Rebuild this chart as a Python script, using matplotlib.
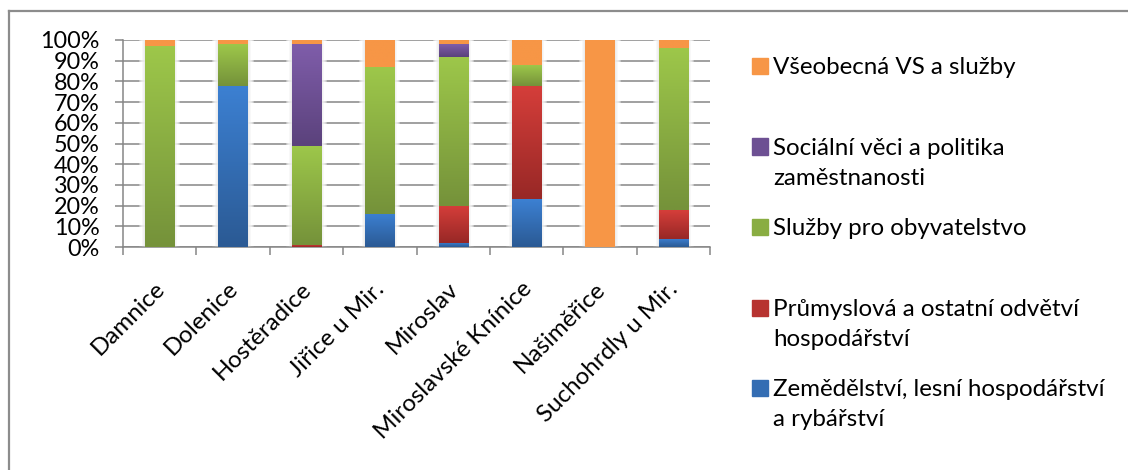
import numpy as np
import matplotlib.pyplot as plt
from matplotlib.colors import LinearSegmentedColormap, to_rgb
from matplotlib.lines import Line2D
from matplotlib.patches import Rectangle

plt.rcParams['font.family'] = ['Lato', 'DejaVu Sans']

obce = ["Damnice", "Dolenice", "Hostěradice", "Jiřice u Mir.", "Miroslav",
        "Miroslavské Knínice", "Našiměřice", "Suchohrdly u Mir."]

# podíly výdajů podle odvětví (v %), zdola nahoru
zemedelstvi = [0, 78, 0, 16, 2, 23, 0, 4]
prumysl = [0, 0, 1, 0, 18, 55, 0, 14]
sluzby_obyv = [97, 20, 48, 71, 72, 10, 0, 78]
socialni = [0, 0, 49, 0, 6, 0, 0, 0]
vseobecna = [3, 2, 2, 13, 2, 12, 100, 4]

nazvy = ["Zemědělství, lesní hospodářství\na rybářství",
         "Průmyslová a ostatní odvětví\nhospodářství",
         "Služby pro obyvatelstvo",
         "Sociální věci a politika\nzaměstnanosti",
         "Všeobecná VS a služby"]

# (světlá horní, tmavá dolní) barva přechodu
barvy = [("#3C80D2", "#2B5A94"),
         ("#D53E3A", "#982826"),
         ("#9DC74A", "#75923A"),
         ("#7F5DAA", "#5B427C"),
         ("#F79646", "#F79646")]

W, H = 1128, 470
fig = plt.figure(figsize=(W / 100, H / 100), dpi=100)
ax = fig.add_axes([123 / W, 1 - 247 / H, (710 - 123) / W, (247 - 40) / H])

serie = np.array([zemedelstvi, prumysl, sluzby_obyv, socialni, vseobecna], dtype=float)
pct = serie / serie.sum(axis=0) * 100
x = np.arange(len(obce))
sirka = 0.4
px = 1 / 73.4  # jedna obrazovková tečka v jednotkách kategorie

# měkký stín kolem sloupců
for j in range(6, 0, -1):
    ax.bar(x, 100, width=sirka + 2 * j * px, color="white", alpha=0.35, zorder=2.5)
for j in range(3, 0, -1):
    ax.bar(x, 100, width=sirka + 2 * j * px, color="#c8c8c8", alpha=0.12, zorder=2.6)

spodek = np.zeros(len(obce))
for hodnoty, (svetla, tmava) in zip(pct, barvy):
    sloupce = ax.bar(x, hodnoty, width=sirka, bottom=spodek, color=svetla, zorder=3)
    cmap = LinearSegmentedColormap.from_list("g", [tmava, svetla])
    for p in sloupce:
        if p.get_height() <= 0:
            p.set_visible(False)
            continue
        x0, y0 = p.get_x(), p.get_y()
        ax.imshow(np.linspace(0, 1, 64).reshape(-1, 1), cmap=cmap, origin="lower",
                  extent=[x0, x0 + p.get_width(), y0, y0 + p.get_height()],
                  aspect="auto", zorder=3, interpolation="bilinear")
        p.set_visible(False)
    spodek += hodnoty

ax.set_xlim(-0.5, len(obce) - 0.5)
ax.set_ylim(0, 100)
ax.set_yticks(np.arange(0, 101, 10))
ax.set_yticklabels([f"{v}%" for v in range(0, 101, 10)], fontsize=16.8)
ax.yaxis.grid(True, color="#868686", linewidth=1.1, zorder=1)
ax.set_axisbelow(True)

ax.set_xticks(x)
ax.set_xticklabels([])
ax.set_xticks(np.arange(-0.5, len(obce)), minor=True)
ax.tick_params(axis="x", which="major", length=0)
ax.tick_params(axis="x", which="minor", length=6, width=1.1, color="#868686", direction="out")
ax.tick_params(axis="y", length=6, width=1.1, color="#868686", direction="out", pad=11)

for s in ["top", "right"]:
    ax.spines[s].set_visible(False)
for s in ["left", "bottom"]:
    ax.spines[s].set_color("#868686")
    ax.spines[s].set_linewidth(1.1)

for xi, nazev in zip(x, obce):
    ax.text(xi - 0.08, -15, nazev, rotation=45, rotation_mode="anchor",
            ha="right", va="top", fontsize=17.4, transform=ax.transData)

# legenda
for i, (nazev, (svetla, tmava)) in enumerate(zip(nazvy[::-1], barvy[::-1])):
    yc = 66 + i * 80.5
    stred = tuple((np.array(to_rgb(svetla)) + np.array(to_rgb(tmava))) / 2)
    fig.patches.append(Rectangle((752 / W, 1 - (yc + 8) / H), 16 / W, 16 / H,
                                 color=stred, transform=fig.transFigure, figure=fig))
    fig.text(773 / W, 1 - (yc - 9) / H, nazev, fontsize=17.4, va="top", ha="left",
             linespacing=1.55)

# rámeček grafu
fig.add_artist(Line2D([9 / W, 9 / W], [0, 1 - 11 / H], color="#8c8c8c", lw=1.6,
                      transform=fig.transFigure))
fig.add_artist(Line2D([9 / W, 1], [1 - 11 / H, 1 - 11 / H], color="#8c8c8c", lw=1.6,
                      transform=fig.transFigure))

fig.savefig("out.png", dpi=100)
